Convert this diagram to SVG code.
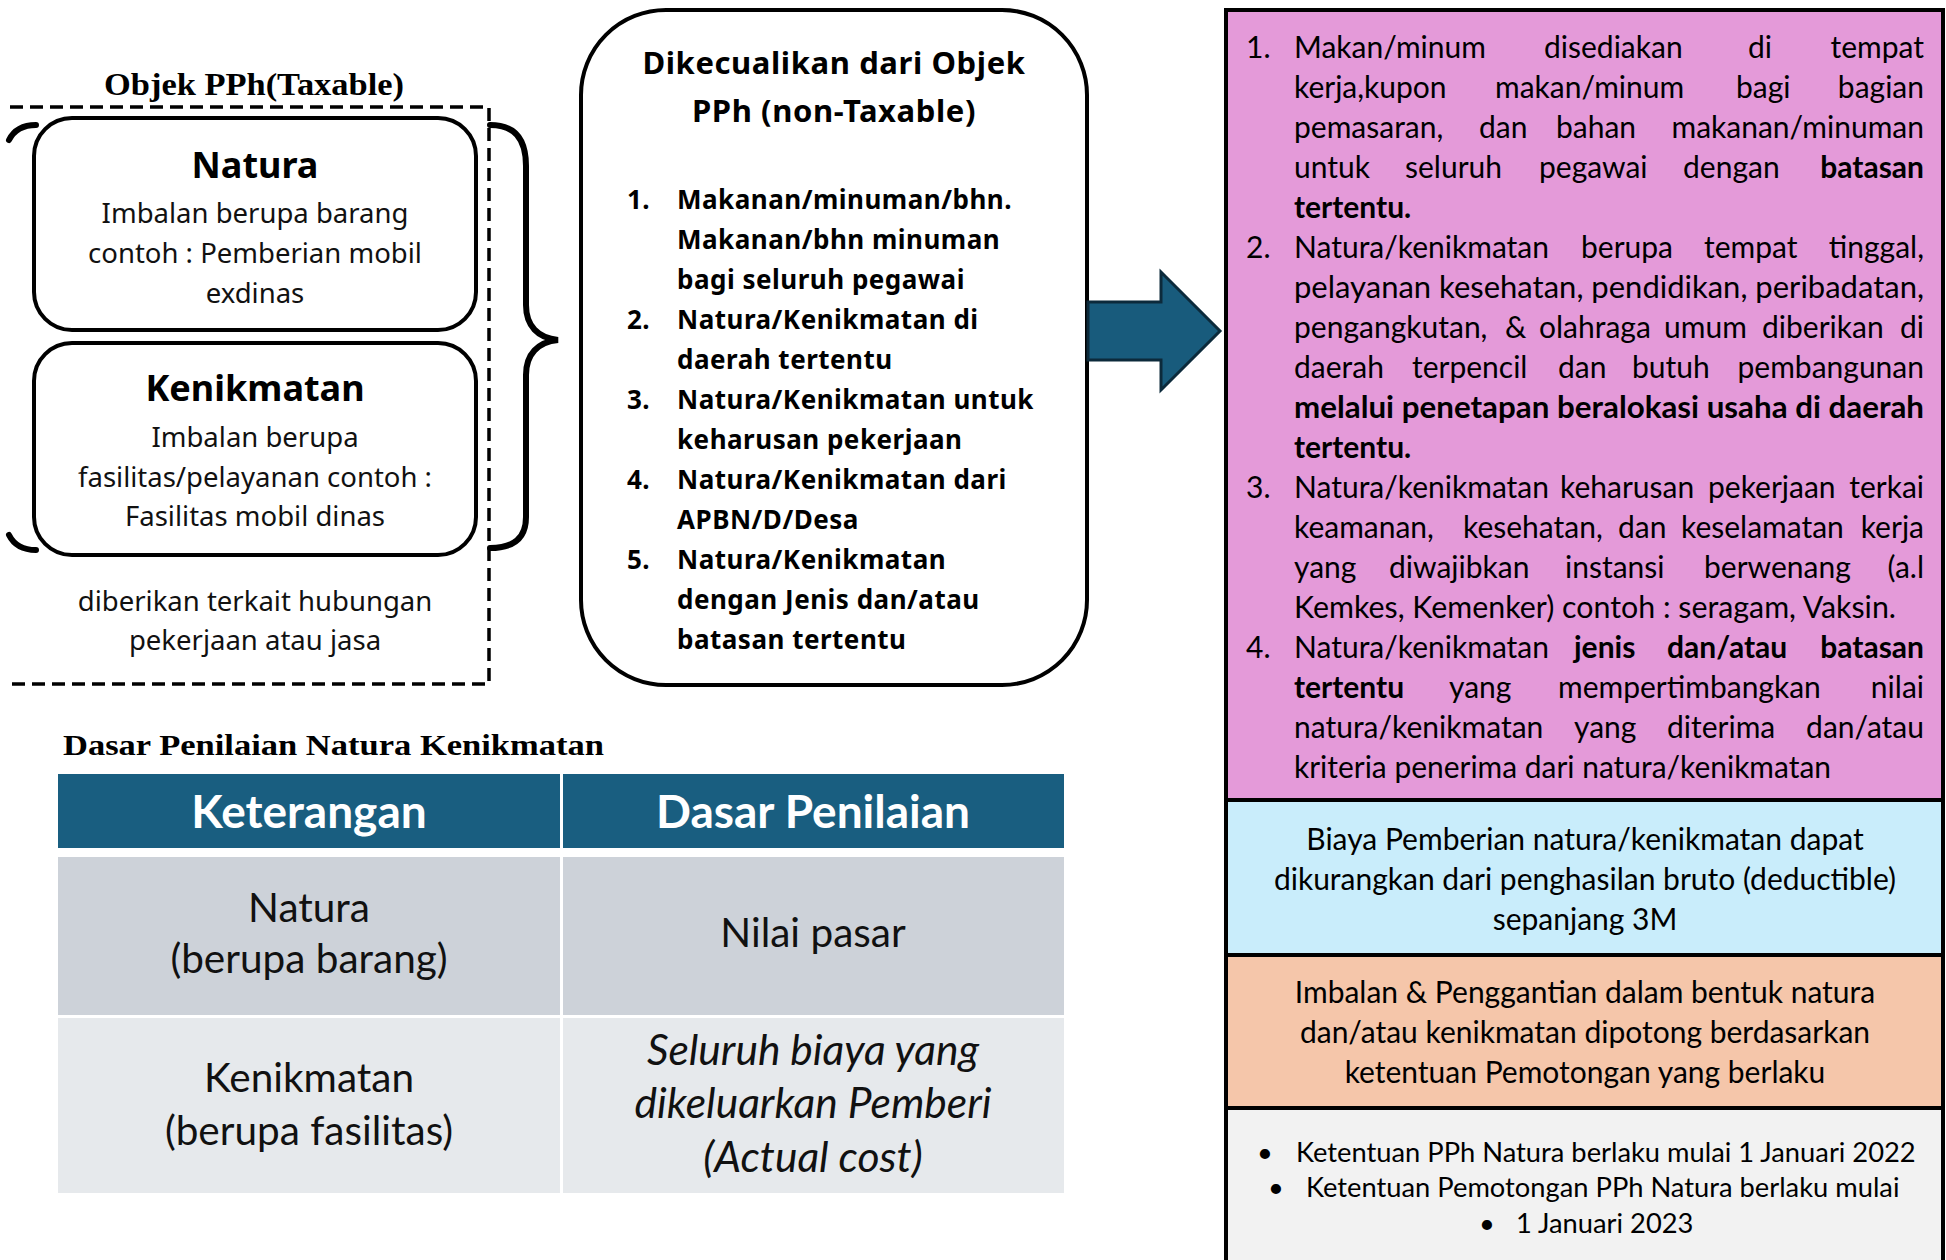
<svg xmlns="http://www.w3.org/2000/svg" width="1946" height="1260" viewBox="0 0 1946 1260">
<style>
.serif{font-family:"Liberation Serif","Times New Roman",serif;font-weight:bold;fill:#000}
.box{fill:#fff;stroke:#000;stroke-width:4}
.ttl{font-family:"Noto Sans","Open Sans",sans-serif;font-weight:bold;font-size:36px;text-anchor:middle;fill:#000}
.bd{font-family:"Noto Sans","Open Sans",sans-serif;font-size:27.5px;text-anchor:middle;fill:#111}
.mt{font-family:"Noto Sans","Open Sans",sans-serif;font-weight:bold;font-size:31px;letter-spacing:0.6px;text-anchor:middle;fill:#000}
.li{font-family:"Noto Sans","Open Sans",sans-serif;font-weight:bold;font-size:26px;letter-spacing:0.5px;fill:#000}
.rp{font-family:Lato,"Liberation Sans",sans-serif;font-size:30px;fill:#000}
.rc{font-family:Lato,"Liberation Sans",sans-serif;font-size:30px;fill:#000;text-anchor:middle}
.rb{font-family:Lato,"Liberation Sans",sans-serif;font-size:27.3px;fill:#000}
.b{font-weight:bold}
.e{text-anchor:end}
.th{font-family:Lato,"Liberation Sans",sans-serif;font-weight:bold;font-size:46px;fill:#fff;text-anchor:middle}
.td{font-family:Lato,"Liberation Sans",sans-serif;font-size:40.5px;fill:#111;text-anchor:middle}
.it{font-style:italic;font-size:42.5px}
.dash{fill:none;stroke:#000;stroke-width:3.5;stroke-dasharray:13 7}
.brace{fill:none;stroke:#000;stroke-width:6;stroke-linecap:round}
</style>

<g id="taxable">
  <text class="serif" x="254" y="95" font-size="31" text-anchor="middle" textLength="300" lengthAdjust="spacingAndGlyphs">Objek PPh(Taxable)</text>
  <path class="dash" d="M10 107 H489 V684 H10"/>
</g>

<g id="natura">
  <rect class="box" x="34" y="118" width="442" height="212" rx="38"/>
  <text class="ttl" x="255" y="178">Natura</text>
  <text class="bd" x="255" y="223">Imbalan berupa barang</text>
  <text class="bd" x="255" y="263">contoh : Pemberian mobil</text>
  <text class="bd" x="255" y="303">exdinas</text>
</g>

<g id="kenikmatan">
  <rect class="box" x="34" y="343" width="442" height="212" rx="38"/>
  <text class="ttl" x="255" y="401">Kenikmatan</text>
  <text class="bd" x="255" y="447">Imbalan berupa</text>
  <text class="bd" x="255" y="487">fasilitas/pelayanan contoh :</text>
  <text class="bd" x="255" y="526">Fasilitas mobil dinas</text>
</g>

<g id="note">
  <text class="bd" x="255" y="611">diberikan terkait hubungan</text>
  <text class="bd" x="255" y="650">pekerjaan atau jasa</text>
</g>

<g id="nontaxable">
  <rect class="box" x="581" y="10" width="506" height="675" rx="85"/>
  <text class="mt" x="834" y="74">Dikecualikan dari Objek</text>
  <text class="mt" x="834" y="122">PPh (non-Taxable)</text>
  <text class="li" x="627" y="209">1.</text><text class="li" x="677" y="209">Makanan/minuman/bhn.</text>
  <text class="li" x="677" y="249">Makanan/bhn minuman</text>
  <text class="li" x="677" y="289">bagi seluruh pegawai</text>
  <text class="li" x="627" y="329">2.</text><text class="li" x="677" y="329">Natura/Kenikmatan di</text>
  <text class="li" x="677" y="369">daerah tertentu</text>
  <text class="li" x="627" y="409">3.</text><text class="li" x="677" y="409">Natura/Kenikmatan untuk</text>
  <text class="li" x="677" y="449">keharusan pekerjaan</text>
  <text class="li" x="627" y="489">4.</text><text class="li" x="677" y="489">Natura/Kenikmatan dari</text>
  <text class="li" x="677" y="529">APBN/D/Desa</text>
  <text class="li" x="627" y="569">5.</text><text class="li" x="677" y="569">Natura/Kenikmatan</text>
  <text class="li" x="677" y="609">dengan Jenis dan/atau</text>
  <text class="li" x="677" y="649">batasan tertentu</text>
</g>

<g id="connectors">
  <path class="brace" d="M36 125 C22 125 14 130 9 140"/>
  <path class="brace" d="M9 535 C14 545 22 550 36 550"/>
  <path class="brace" d="M490 125 C514 125 526 138 526 166 L526 305 C526 326 538 338 558 340 C538 342 526 354 526 375 L526 517 C526 538 514 548 490 548"/>
  <polygon points="1088,302 1161,302 1161,272 1220,331 1161,390 1161,360 1088,360" fill="#185b7c" stroke="#0c2a3b" stroke-width="3"/>
</g>

<g id="panel-pink">
  <rect x="1226" y="10" width="717" height="790" fill="#e49ad9" stroke="#000" stroke-width="4"/>
  <text class="rp" y="58"><tspan x="1246">1.</tspan><tspan x="1294">Makan/minum</tspan><tspan x="1544">disediakan</tspan><tspan x="1748">di</tspan></text>
  <text class="rp e" x="1924" y="58">tempat</text>
  <text class="rp" y="98"><tspan x="1294">kerja,kupon</tspan><tspan x="1495">makan/minum</tspan><tspan x="1736">bagi</tspan></text>
  <text class="rp e" x="1924" y="98">bagian</text>
  <text class="rp" y="138"><tspan x="1294">pemasaran,</tspan><tspan x="1479">dan</tspan><tspan x="1556">bahan</tspan></text>
  <text class="rp e" x="1924" y="138">makanan/minuman</text>
  <text class="rp" y="178"><tspan x="1294">untuk</tspan><tspan x="1405">seluruh</tspan><tspan x="1539">pegawai</tspan><tspan x="1683">dengan</tspan></text>
  <text class="rp e b" x="1924" y="178">batasan</text>
  <text class="rp b" x="1294" y="218">tertentu.</text>
  <text class="rp" y="258"><tspan x="1246">2.</tspan><tspan x="1294">Natura/kenikmatan</tspan><tspan x="1581">berupa</tspan><tspan x="1704">tempat</tspan></text>
  <text class="rp e" x="1924" y="258">tinggal,</text>
  <text class="rp" x="1294" y="298" textLength="630" lengthAdjust="spacingAndGlyphs">pelayanan kesehatan, pendidikan, peribadatan,</text>
  <text class="rp" y="338"><tspan x="1294">pengangkutan,</tspan><tspan x="1505">&amp;</tspan><tspan x="1539">olahraga</tspan><tspan x="1664">umum</tspan><tspan x="1762">diberikan</tspan></text>
  <text class="rp e" x="1924" y="338">di</text>
  <text class="rp" y="378"><tspan x="1294">daerah</tspan><tspan x="1412">terpencil</tspan><tspan x="1558">dan</tspan><tspan x="1632">butuh</tspan></text>
  <text class="rp e" x="1924" y="378">pembangunan</text>
  <text class="rp b" x="1294" y="418" textLength="630" lengthAdjust="spacingAndGlyphs">melalui penetapan beralokasi usaha di daerah</text>
  <text class="rp b" x="1294" y="458">tertentu.</text>
  <text class="rp" y="498"><tspan x="1246">3.</tspan><tspan x="1294">Natura/kenikmatan</tspan><tspan x="1560">keharusan</tspan><tspan x="1708">pekerjaan</tspan></text>
  <text class="rp e" x="1924" y="498">terkai</text>
  <text class="rp" y="538"><tspan x="1294">keamanan,</tspan><tspan x="1463">kesehatan,</tspan><tspan x="1618">dan</tspan><tspan x="1681">keselamatan</tspan></text>
  <text class="rp e" x="1924" y="538">kerja</text>
  <text class="rp" y="578"><tspan x="1294">yang</tspan><tspan x="1389">diwajibkan</tspan><tspan x="1565">instansi</tspan><tspan x="1704">berwenang</tspan></text>
  <text class="rp e" x="1924" y="578">(a.l</text>
  <text class="rp" x="1294" y="618" textLength="602" lengthAdjust="spacingAndGlyphs">Kemkes, Kemenker) contoh : seragam, Vaksin.</text>
  <text class="rp" y="658"><tspan x="1246">4.</tspan><tspan x="1294">Natura/kenikmatan</tspan><tspan x="1574" class="b">jenis</tspan><tspan x="1667" class="b">dan/atau</tspan></text>
  <text class="rp b e" x="1924" y="658">batasan</text>
  <text class="rp" y="698"><tspan x="1294" class="b">tertentu</tspan><tspan x="1449">yang</tspan><tspan x="1558">mempertimbangkan</tspan></text>
  <text class="rp e" x="1924" y="698">nilai</text>
  <text class="rp" y="738"><tspan x="1294">natura/kenikmatan</tspan><tspan x="1574">yang</tspan><tspan x="1667">diterima</tspan></text>
  <text class="rp e" x="1924" y="738">dan/atau</text>
  <text class="rp" x="1294" y="778" textLength="537" lengthAdjust="spacingAndGlyphs">kriteria penerima dari natura/kenikmatan</text>
</g>

<g id="panel-blue">
  <rect x="1226" y="800" width="717" height="155" fill="#c9edfb" stroke="#000" stroke-width="4"/>
  <text class="rc" x="1585" y="850">Biaya Pemberian natura/kenikmatan dapat</text>
  <text class="rc" x="1585" y="890">dikurangkan dari penghasilan bruto (deductible)</text>
  <text class="rc" x="1585" y="930">sepanjang 3M</text>
</g>

<g id="panel-peach">
  <rect x="1226" y="955" width="717" height="153" fill="#f5c6aa" stroke="#000" stroke-width="4"/>
  <text class="rc" x="1585" y="1003">Imbalan &amp; Penggantian dalam bentuk natura</text>
  <text class="rc" x="1585" y="1043">dan/atau kenikmatan dipotong berdasarkan</text>
  <text class="rc" x="1585" y="1083">ketentuan Pemotongan yang berlaku</text>
</g>

<g id="panel-grey">
  <rect x="1226" y="1108" width="717" height="160" fill="#f2f2f2" stroke="#000" stroke-width="4"/>
  <text class="rb" x="1257" y="1162">•</text><text class="rb" x="1296" y="1162">Ketentuan PPh Natura berlaku mulai 1 Januari 2022</text>
  <text class="rb" x="1268" y="1197">•</text><text class="rb" x="1306" y="1197">Ketentuan Pemotongan PPh Natura berlaku mulai</text>
  <text class="rb" x="1479" y="1233">•</text><text class="rb" x="1516" y="1233">1 Januari 2023</text>
</g>

<g id="table">
  <text class="serif" x="63" y="755" font-size="30" textLength="541" lengthAdjust="spacingAndGlyphs">Dasar Penilaian Natura Kenikmatan</text>
  <rect x="58" y="774" width="502" height="74" fill="#195e80"/>
  <rect x="563" y="774" width="501" height="74" fill="#195e80"/>
  <rect x="58" y="857" width="502" height="158" fill="#cdd2d9"/>
  <rect x="563" y="857" width="501" height="158" fill="#cdd2d9"/>
  <rect x="58" y="1018" width="502" height="175" fill="#e6e9ec"/>
  <rect x="563" y="1018" width="501" height="175" fill="#e6e9ec"/>
  <text class="th" x="309" y="828">Keterangan</text>
  <text class="th" x="813" y="828">Dasar Penilaian</text>
  <text class="td" x="309" y="922">Natura</text>
  <text class="td" x="309" y="973">(berupa barang)</text>
  <text class="td" x="813" y="947">Nilai pasar</text>
  <text class="td" x="309" y="1092">Kenikmatan</text>
  <text class="td" x="309" y="1145">(berupa fasilitas)</text>
  <text class="td it" x="813" y="1065">Seluruh biaya yang</text>
  <text class="td it" x="813" y="1118">dikeluarkan Pemberi</text>
  <text class="td it" x="813" y="1172">(Actual cost)</text>
</g>
</svg>
